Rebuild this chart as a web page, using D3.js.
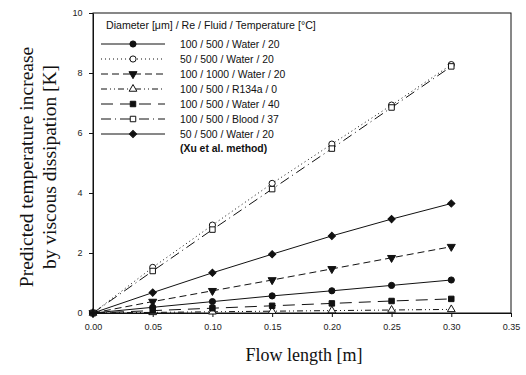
<!DOCTYPE html>
<html>
<head>
<meta charset="utf-8">
<script src="https://cdn.jsdelivr.net/npm/d3@7"></script>
<style>
  body { margin: 0; background: #fff; }
  .tick text { font-family: "Liberation Sans", Arial, sans-serif; font-size: 9px; fill: #222; }
</style>
</head>
<body>
<div id="chart"></div>
<script>
// flow length [m]
var lengths = [0, 0.05, 0.10, 0.15, 0.20, 0.25, 0.30];
var xTicks = [0, 0.05, 0.10, 0.15, 0.20, 0.25, 0.30, 0.35];
var yTicks = [0, 2, 4, 6, 8, 10];

var labels = ["100 / 500 / Water / 20", "50 / 500 / Water / 20", "100 / 1000 / Water / 20",
              "100 / 500 / R134a / 0", "100 / 500 / Water / 40", "100 / 500 / Blood / 37",
              "50 / 500 / Water / 20"];

// temperature increase [K]
var water100 = [0, 0.19, 0.38, 0.57, 0.74, 0.92, 1.10];
var water50  = [0, 1.52, 2.93, 4.32, 5.63, 6.93, 8.28];
var re1000   = [0, 0.38, 0.74, 1.10, 1.47, 1.84, 2.21];
var r134a    = [0, 0.02, 0.04, 0.06, 0.08, 0.10, 0.12];
var water40  = [0, 0.08, 0.16, 0.24, 0.32, 0.40, 0.47];
var blood    = [0, 1.40, 2.78, 4.13, 5.48, 6.85, 8.22];
var xu50     = [0, 0.68, 1.34, 1.96, 2.57, 3.13, 3.65];

var series = [
  {name: labels[0], values: water100, dash: null,            marker: "circle",   filled: true},
  {name: labels[1], values: water50,  dash: "1,3",           marker: "circle",   filled: false},
  {name: labels[2], values: re1000,   dash: "7,4",           marker: "triangleDown", filled: true},
  {name: labels[3], values: r134a,    dash: "6,3,1,3,1,3",   marker: "triangle", filled: false},
  {name: labels[4], values: water40,  dash: "12,7",          marker: "square",   filled: true},
  {name: labels[5], values: blood,    dash: "10,4,1,4",      marker: "square",   filled: false},
  {name: labels[6], values: xu50,     dash: null,            marker: "diamond",  filled: true}
];

var W = 526, H = 375;
var margin = {left: 93, right: 15, top: 13, bottom: 62};

var svg = d3.select("#chart").append("svg")
  .attr("width", W)
  .attr("height", H);

var x = d3.scaleLinear().domain([0, 0.35]).range([margin.left, W - margin.right]);
var y = d3.scaleLinear().domain([0, 10]).range([H - margin.bottom, margin.top]);

var ink = "#111";

// frame
svg.append("rect")
  .attr("x", x(0)).attr("y", y(10))
  .attr("width", x(0.35) - x(0)).attr("height", y(0) - y(10))
  .attr("fill", "none").attr("stroke", ink).attr("stroke-width", 1);

var xAxis = svg.append("g")
  .attr("transform", "translate(0," + y(0) + ")")
  .call(d3.axisBottom(x).tickValues(xTicks).tickFormat(d3.format(".2f")).tickSize(4).tickSizeOuter(0));
var yAxis = svg.append("g")
  .attr("transform", "translate(" + x(0) + ",0)")
  .call(d3.axisLeft(y).tickValues(yTicks).tickSize(4).tickSizeOuter(0));
[xAxis, yAxis].forEach(function (g) {
  g.select(".domain").attr("stroke", ink);
  g.selectAll(".tick line").attr("stroke", ink);
});
xAxis.selectAll(".tick text").attr("dy", "1.1em");
yAxis.selectAll(".tick text").attr("dx", "-0.4em");

// axis titles
svg.append("text")
  .attr("x", (x(0) + x(0.35)) / 2 + 2).attr("y", 361)
  .attr("text-anchor", "middle")
  .style("font-family", "'Liberation Serif', 'Times New Roman', serif")
  .style("font-size", "18px").attr("fill", ink)
  .text("Flow length [m]");

var yTitle = svg.append("text")
  .attr("transform", "translate(33," + (y(5) + 4) + ") rotate(-90)")
  .attr("text-anchor", "middle")
  .style("font-family", "'Liberation Serif', 'Times New Roman', serif")
  .style("font-size", "19.5px").attr("fill", ink);
yTitle.append("tspan").attr("x", 0).attr("dy", 0).text("Predicted temperature increase");
yTitle.append("tspan").attr("x", 0).attr("dy", 23).text("by viscous dissipation [K]");

// diamond drawn as a square turned 45 degrees
var symbolType = {
  circle: d3.symbolCircle, square: d3.symbolSquare, triangle: d3.symbolTriangle,
  triangleDown: d3.symbolTriangle, diamond: d3.symbolSquare
};
var symbolSize = {circle: 30, square: 30, triangle: 26, triangleDown: 28, diamond: 26};
var symbolRot = {triangleDown: 180, diamond: 45};

function drawMarker(g, s, cx, cy) {
  var rot = symbolRot[s.marker] ? " rotate(" + symbolRot[s.marker] + ")" : "";
  g.append("path")
    .attr("d", d3.symbol().type(symbolType[s.marker]).size(symbolSize[s.marker])())
    .attr("transform", "translate(" + cx + "," + cy + ")" + rot)
    .attr("fill", s.filled ? ink : "#fff")
    .attr("stroke", ink).attr("stroke-width", 1);
}

var line = d3.line()
  .x(function (d, i) { return x(lengths[i]); })
  .y(function (d) { return y(d); });

var plot = svg.append("g");
series.forEach(function (s) {
  plot.append("path")
    .datum(s.values)
    .attr("d", line)
    .attr("fill", "none")
    .attr("stroke", ink)
    .attr("stroke-width", 1)
    .attr("stroke-dasharray", s.dash);
});
series.forEach(function (s) {
  var g = plot.append("g");
  s.values.forEach(function (v, i) { drawMarker(g, s, x(lengths[i]), y(v)); });
});

// legend
var lg = svg.append("g");
var sans = "'Liberation Sans', Arial, sans-serif";
lg.append("text")
  .attr("x", 106).attr("y", 29)
  .style("font-family", sans)
  .style("font-size", "10.6px").attr("fill", ink)
  .text("Diameter [\u03bcm] / Re / Fluid / Temperature [\u00b0C]");

series.forEach(function (s, i) {
  var ry = 44 + i * 15;
  lg.append("line")
    .attr("x1", 101).attr("x2", 165).attr("y1", ry).attr("y2", ry)
    .attr("stroke", ink).attr("stroke-width", 1)
    .attr("stroke-dasharray", s.dash);
  drawMarker(lg, s, 133, ry);
  lg.append("text")
    .attr("x", 180).attr("y", ry + 3.5)
    .style("font-family", sans)
    .style("font-size", "10.4px").attr("fill", ink)
    .text(s.name);
});
lg.append("text")
  .attr("x", 180).attr("y", 44 + 7 * 15 + 3)
  .style("font-family", sans)
  .style("font-size", "10.4px").style("font-weight", "bold").attr("fill", ink)
  .text("(Xu et al. method)");
</script>
</body>
</html>
